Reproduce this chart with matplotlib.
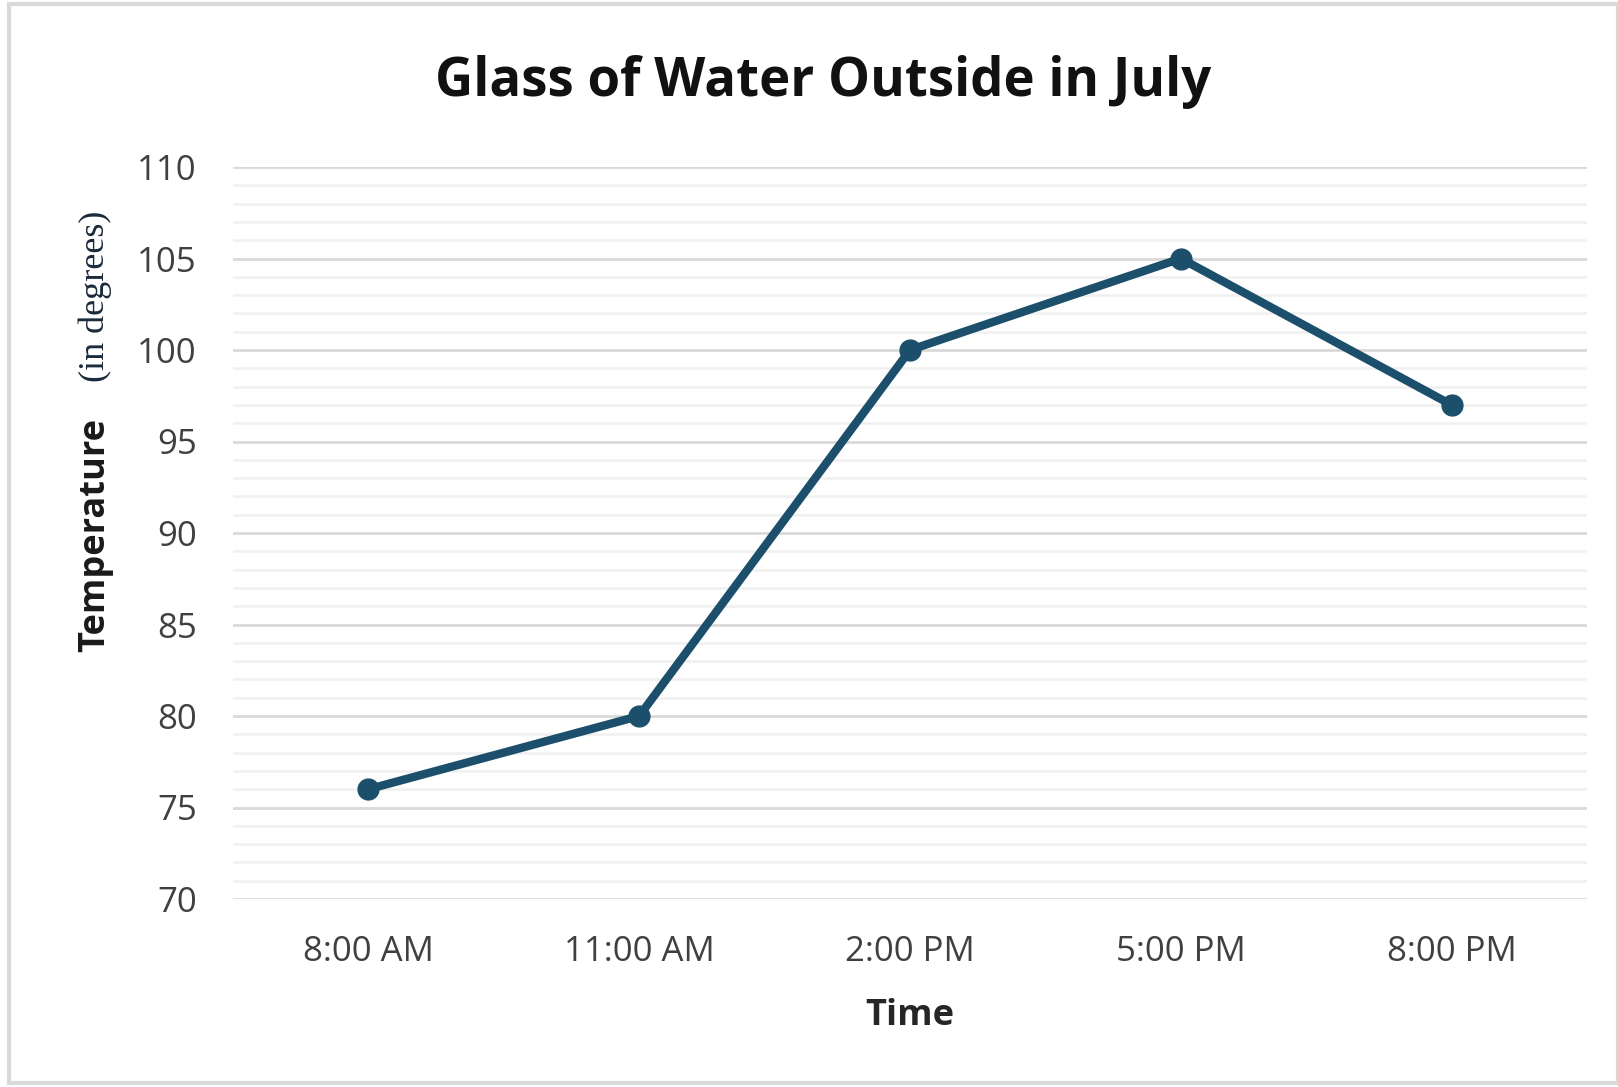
"""Glass of water outside in July: temperature over the day."""

import matplotlib
matplotlib.use("Agg")
import matplotlib.pyplot as plt
from matplotlib.patches import Rectangle
from matplotlib.ticker import MultipleLocator

times = ["8:00 AM", "11:00 AM", "2:00 PM", "5:00 PM", "8:00 PM"]
temps = [76, 80, 100, 105, 97]

W, H = 1618, 1087
fig = plt.figure(figsize=(W / 100, H / 100), dpi=100)
fig.patch.set_facecolor("white")

# light outer frame
fig.patches.append(Rectangle((9 / W, 4 / H), (W - 9) / W, (H - 8) / H,
                             transform=fig.transFigure, fill=False,
                             edgecolor="#d9d9d9", linewidth=3))

ax = fig.add_axes([233 / W, 1 - 899 / H, (1587 - 233) / W, (899 - 167) / H])
x = list(range(len(times)))
ax.plot(x, temps, color="#1b4f6b", linewidth=6, marker="o", markersize=15,
        solid_capstyle="round", zorder=3)

ax.set_xlim(-0.5, len(times) - 0.5)
ax.set_ylim(70, 110)
ax.yaxis.set_major_locator(MultipleLocator(5))
ax.yaxis.set_minor_locator(MultipleLocator(1))
ax.grid(True, which="major", axis="y", color="#d9d9d9", linewidth=2)
ax.grid(True, which="minor", axis="y", color="#f0f0f0", linewidth=1.8)
ax.set_axisbelow(True)
for s in ["top", "right", "left", "bottom"]:
    ax.spines[s].set_visible(False)
ax.tick_params(axis="both", which="both", length=0)
ax.tick_params(axis="y", pad=26)
ax.tick_params(axis="x", pad=26)
ax.set_xticks(x)
ax.set_xticklabels(times, fontsize=25, family="Open Sans", color="#404040")
for lab in ax.get_yticklabels():
    lab.set_fontsize(25)
    lab.set_family("Open Sans")
    lab.set_color("#404040")

ax.set_xlabel("Time", fontsize=26, family="Open Sans", fontweight="bold",
              color="#262626", labelpad=21)

fig.text(95 / W, 1 - 535 / H, "Temperature", rotation=90, ha="center", va="center",
         fontsize=26, family="Open Sans", fontweight="bold", color="#1a1a1a")
fig.text(95 / W, 1 - 296 / H, "(in degrees)", rotation=90, ha="center", va="center",
         fontsize=26, family="Liberation Serif", color="#1a2a3a")

fig.text(823 / W, 1 - 82 / H, "Glass of Water Outside in July", ha="center", va="center",
         fontsize=38, family="Open Sans", fontweight="bold", color="#111111")

fig.savefig("out.png", dpi=100, facecolor="white")
